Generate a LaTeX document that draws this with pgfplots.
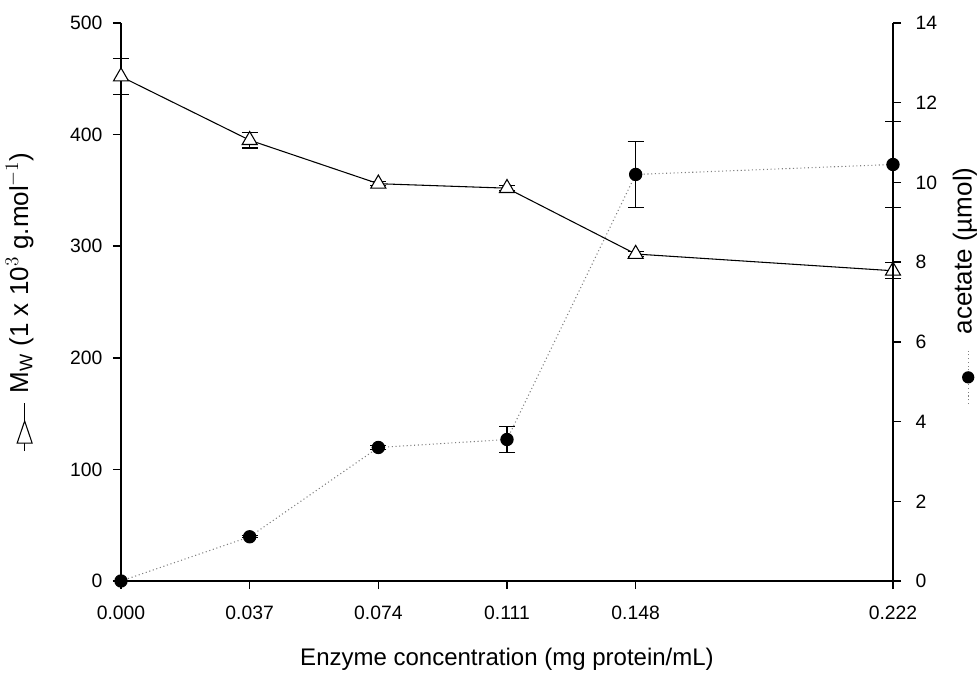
\documentclass[border=0pt]{standalone}
\usepackage{pgfplots}
\pgfplotsset{compat=1.18}
\usepackage{fontspec}
\setmainfont{Liberation Sans}
\newsavebox\mwsym
\newsavebox\acsym
\begin{document}
\sbox\mwsym{\tikz[baseline=-0.5ex]{\draw[line width=0.8pt] (0,0)--(36pt,0);
      \draw[line width=0.8pt, fill=white] (22.5pt,0)--(6pt,5.6pt)--(6pt,-5.6pt)--cycle;}}%
\sbox\acsym{\tikz[baseline=-0.5ex]{\draw[gray, dotted, line width=0.8pt] (0,0)--(41pt,0);
      \fill[black] (20pt,0) circle (4.6pt);}}%
\fontsize{14.5pt}{17pt}\selectfont
\begin{tikzpicture}
\pgfplotsset{
  common/.style={
    scale only axis, width=579pt, height=418.5pt,
    xmin=0, xmax=0.222,
    clip=false,
    tick align=outside,
    major tick length=6pt,
    axis line style={line width=1.1pt, black},
    every tick/.style={line width=1.1pt, black},
    /pgf/number format/assume math mode=true,
    tick label style={font=\fontsize{14.5pt}{17pt}\selectfont},
    label style={font=\fontsize{19.5pt}{23pt}\selectfont},
  },
}
\begin{axis}[common,
  axis y line*=left, axis x line*=bottom,
  ymin=0, ymax=500, ytick={0,100,...,500},
  xtick={0,0.037,0.074,0.111,0.148,0.222},
  xticklabels={0.000,0.037,0.074,0.111,0.148,0.222},
  xticklabel style={yshift=-8pt},
  yticklabel style={xshift=-3pt},
  xlabel={Enzyme concentration (mg protein/mL)},
  xlabel style={at={(axis description cs:0.5,0)}, anchor=center, yshift=-59pt, font=\fontsize{18pt}{21pt}\selectfont},
  ylabel={\usebox\mwsym\hspace{7pt}$\mathrm{M_W}$ (1 x 10$^{3}$ g.mol$^{-1}$)},
  ylabel style={at={(axis description cs:0,0.5)}, anchor=center, yshift=76pt},
]
\addplot[black, line width=0.8pt, mark=triangle*, mark size=6.5pt,
  mark options={fill=white, draw=black, line width=0.8pt},
  error bars/.cd, y dir=both, y explicit,
  error bar style={line width=0.8pt, black},
  error mark options={mark size=6pt, line width=0.8pt, black, rotate=90}]
  table[x=x, y=y, y error=e] {
x y e
0 452 16
0.037 395 7
0.074 356 2
0.111 352 2
0.148 293 2
0.222 278 7
};
\end{axis}
\begin{axis}[common,
  axis y line*=right, axis x line=none,
  ymin=0, ymax=14, ytick={0,2,...,14},
  yticklabel style={xshift=6pt},
  ylabel={\usebox\acsym\hspace{11pt}acetate (µmol)},
  ylabel style={at={(axis description cs:1,0.5)}, anchor=center, yshift=-54pt, xshift=12pt},
]
\addplot[gray, dotted, line width=0.8pt, mark=*, mark size=4.6pt,
  mark options={fill=black, draw=black, solid},
  error bars/.cd, y dir=both, y explicit,
  error bar style={line width=0.8pt, black, solid},
  error mark options={mark size=6pt, line width=0.8pt, black, solid, rotate=90}]
  table[x=x, y=y, y error=e] {
x y e
0 0 0
0.037 1.11 0.03
0.074 3.35 0.06
0.111 3.55 0.32
0.148 10.2 0.83
0.222 10.45 1.07
};
\end{axis}
\pgfresetboundingbox
\path (-90.75pt,-70.5pt) rectangle (642pt,435.75pt);
\end{tikzpicture}
\end{document}
